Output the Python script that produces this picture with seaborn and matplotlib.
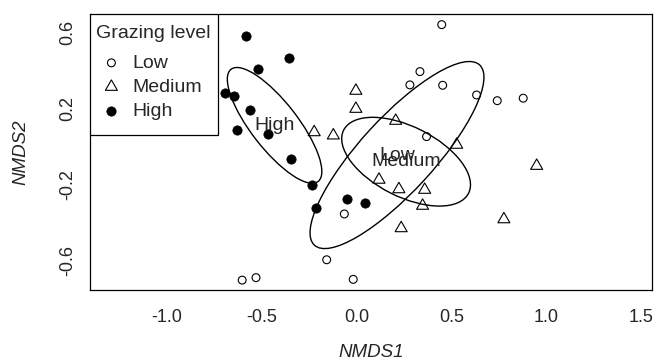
import matplotlib
matplotlib.use("Agg")
import matplotlib.pyplot as plt
from matplotlib.patches import Ellipse, Rectangle
from matplotlib.path import Path
import numpy as np
import pandas as pd
import seaborn as sns

# NMDS site scores
low_x = [-0.065, -0.158, -0.604, -0.531, -0.018, 0.449, 0.334, 0.281, 0.454, 0.633, 0.742, 0.879, 0.369]
low_y = [-0.354, -0.595, -0.702, -0.689, -0.698, 0.642, 0.395, 0.325, 0.323, 0.272, 0.242, 0.255, 0.053]
medium_x = [-0.004, -0.004, -0.224, -0.123, 0.206, 0.528, 0.950, 0.118, 0.223, 0.359, 0.348, 0.235, 0.777]
medium_y = [0.294, 0.199, 0.076, 0.059, 0.136, 0.010, -0.101, -0.174, -0.224, -0.227, -0.311, -0.429, -0.382]
high_x = [-0.586, -0.356, -0.519, -0.695, -0.646, -0.563, -0.630, -0.466, -0.348, -0.236, -0.215, -0.053, 0.044]
high_y = [0.584, 0.468, 0.411, 0.281, 0.265, 0.193, 0.088, 0.065, -0.065, -0.202, -0.321, -0.277, -0.295]

# group ellipses (centre, semi-axes, angle of major axis in degrees)
groups = ["Low", "Medium", "High"]
ell_cx = [0.213, 0.261, -0.433]
ell_cy = [-0.044, -0.079, 0.112]
ell_a = [0.644, 0.369, 0.374]
ell_b = [0.195, 0.184, 0.123]
ell_angle = [47.4, -26.7, -52.1]

yticks = [-0.6, -0.4, -0.2, 0.0, 0.2, 0.4, 0.6]
ytick_labels = ["-0.6", "", "-0.2", "", "0.2", "", "0.6"]
xticks = [-1.0, -0.5, 0.0, 0.5, 1.0, 1.5]
xtick_labels = ["-1.0", "-0.5", "0.0", "0.5", "1.0", "1.5"]


def make_df():
    df = pd.concat([
        pd.DataFrame({"NMDS1": low_x, "NMDS2": low_y, "group": "Low"}),
        pd.DataFrame({"NMDS1": medium_x, "NMDS2": medium_y, "group": "Medium"}),
        pd.DataFrame({"NMDS1": high_x, "NMDS2": high_y, "group": "High"}),
    ], ignore_index=True)
    return df


def plot(df):
    sns.set_style("white")
    plt.rcParams["font.family"] = ["Liberation Sans", "DejaVu Sans"]
    plt.rcParams["xtick.direction"] = "in"
    plt.rcParams["ytick.direction"] = "in"

    fig = plt.figure(figsize=(6.7, 3.63), dpi=100)
    ax = fig.add_axes([90 / 670, 1 - 290 / 363, (651.7 - 90) / 670, (290 - 14) / 363])

    # R-style pch 2 triangle, centred on its circumcentre
    tri = Path([(0, 1), (-0.866, -0.5), (0.866, -0.5), (0, 1)], closed=True)
    sns.scatterplot(data=df[df.group == "Low"], x="NMDS1", y="NMDS2", ax=ax,
                    marker="o", s=32, facecolor="none", edgecolor="black",
                    linewidth=0.8, label="Low")
    sns.scatterplot(data=df[df.group == "Medium"], x="NMDS1", y="NMDS2", ax=ax,
                    marker=tri, s=100, facecolor="none", edgecolor="black",
                    linewidth=0.8, label="Medium")
    sns.scatterplot(data=df[df.group == "High"], x="NMDS1", y="NMDS2", ax=ax,
                    marker="o", s=45, color="black", edgecolor="black",
                    linewidth=0.5, label="High")

    for i, g in enumerate(groups):
        e = Ellipse((ell_cx[i], ell_cy[i]), 2 * ell_a[i], 2 * ell_b[i], angle=ell_angle[i],
                    fill=False, edgecolor="black", linewidth=1.0)
        ax.add_patch(e)
        ax.text(ell_cx[i], ell_cy[i], g, ha="center", va="center", fontsize=14)

    ax.set_xlim(-1.407, 1.557)
    ax.set_ylim(-0.754, 0.698)
    ax.set_xticks(xticks)
    ax.set_xticklabels(xtick_labels, fontsize=13)
    ax.set_yticks(yticks)
    ax.set_yticklabels(ytick_labels, fontsize=13, rotation=90, va="center")
    ax.tick_params(axis="x", length=7, width=0.8, color="black", pad=13.5)
    ax.tick_params(axis="y", length=7, width=0.8, color="black", pad=10)
    for sp in ax.spines.values():
        sp.set_color("black")
        sp.set_linewidth(0.9)

    ax.set_xlabel("NMDS1", fontsize=13.5, style="italic")
    ax.set_ylabel("NMDS2", fontsize=13.5, style="italic")
    ax.xaxis.set_label_coords(0.5, -0.195)
    ax.yaxis.set_label_coords(-0.1086, 0.5)

    # legend box like R's legend(): white box in the top-left corner
    box = Rectangle((0, 1 - 121 / 276), 128.3 / 561.7, 121 / 276, transform=ax.transAxes,
                    facecolor="white", edgecolor="black", linewidth=0.9, zorder=4)
    ax.add_patch(box)
    leg = ax.legend(title="Grazing level", loc="upper left", bbox_to_anchor=(0, 1 - 5 / 276),
                    fontsize=14, title_fontsize=14, frameon=False,
                    borderaxespad=0, borderpad=0.3, labelspacing=0.33,
                    handlelength=1.6, handletextpad=0.3)
    leg._legend_box.align = "left"
    leg._legend_box.sep = 9
    leg.set_zorder(5)

    fig.savefig("out.png", dpi=100)


def main():
    df = make_df()
    plot(df)


main()
